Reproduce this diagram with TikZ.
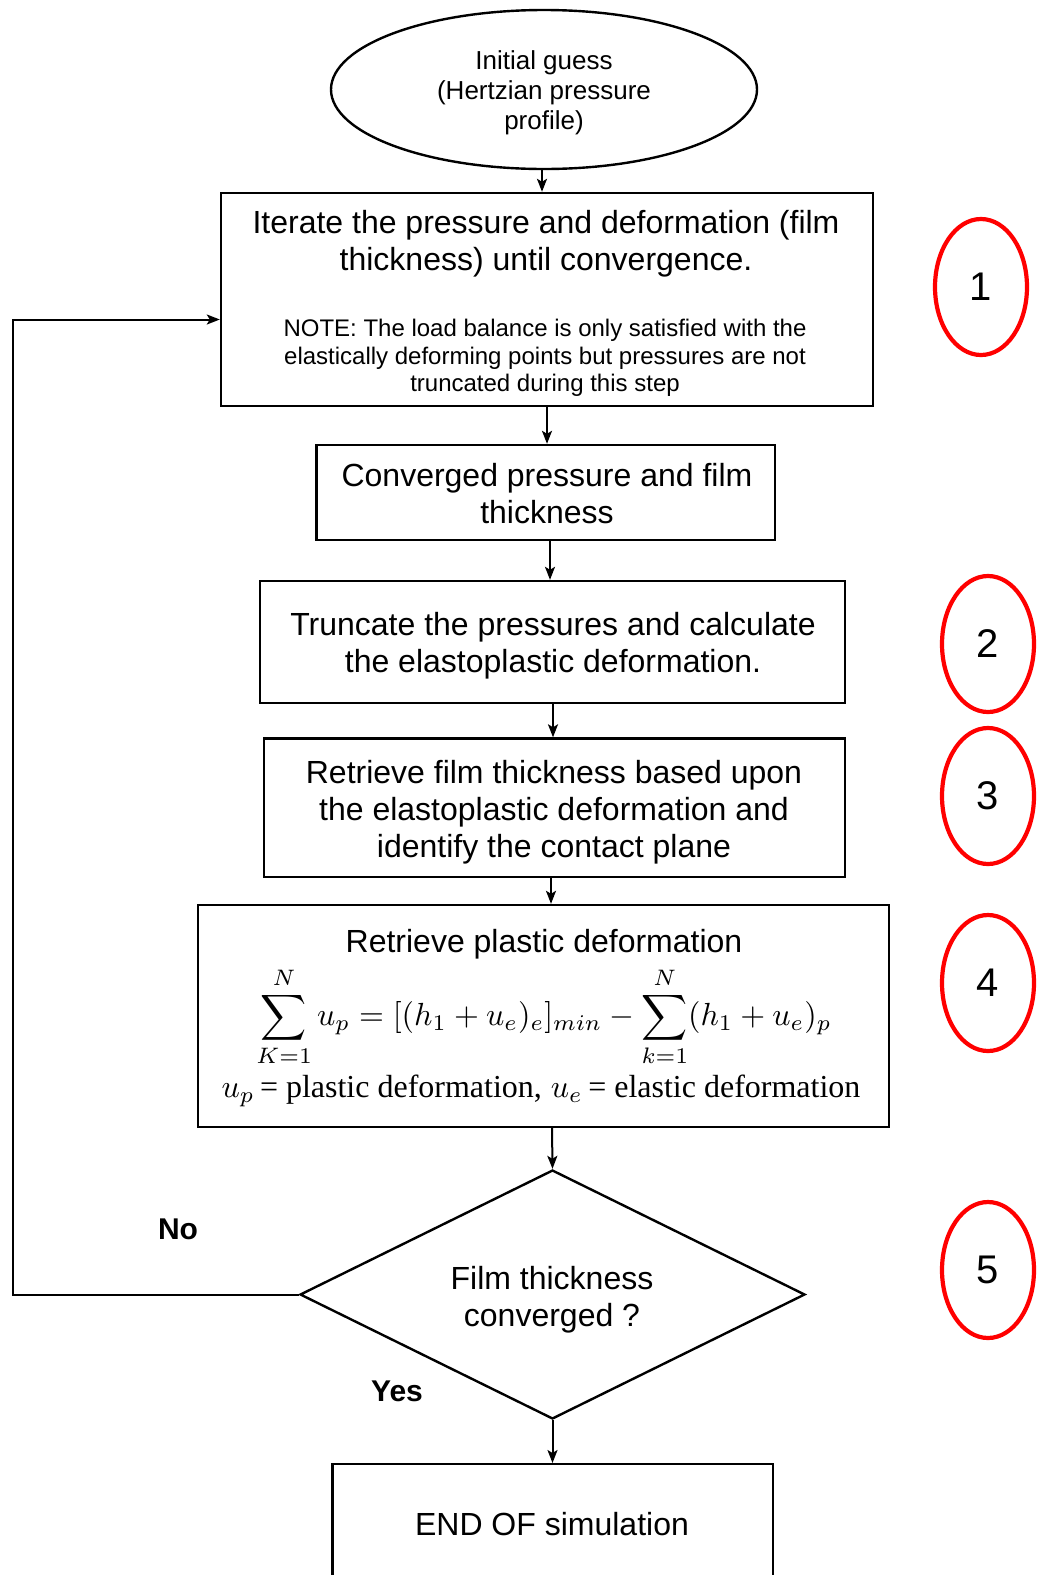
\documentclass[tikz,border=0pt]{standalone}
\usepackage{amsmath}
\usepackage{graphicx}
\usepackage{fontspec}
\setmainfont{Liberation Sans}
\newfontfamily\serifrm{Liberation Serif}
\usetikzlibrary{shapes.geometric,arrows.meta}

% math set at 10pt and enlarged, so that the math fonts keep their design size
\newcommand{\enlargedmath}[2]{\scalebox{#1}{\fontsize{10}{12}\selectfont$#2$}}

\tikzset{
  box/.style={draw, line width=2.4pt, rectangle, inner sep=0pt},
  txt/.style={align=center, inner sep=0pt, font=\fontsize{32}{37}\selectfont},
  conn/.style={line width=2pt, -{Stealth[length=13pt,width=10pt,inset=3pt]}},
  stepmark/.style={draw=red, line width=4.2pt, ellipse, minimum width=92pt, minimum height=136pt, inner sep=0pt, font=\fontsize{40}{40}\selectfont},
  answer/.style={inner sep=0pt, font=\fontsize{30}{30}\selectfont\bfseries}
}

\begin{document}
\begin{tikzpicture}[x=1pt,y=-1pt]
\useasboundingbox (0,0) rectangle (1041,1575);

% start ellipse
\node[draw, line width=2.4pt, ellipse, minimum width=426pt, minimum height=159pt, inner sep=0pt] (start) at (544,89.5) {};
\node[align=center, inner sep=0pt, font=\fontsize{26}{30}\selectfont] (starttxt) at (544,93) {Initial guess\\(Hertzian pressure\\profile)};

% step 1: iteration box
\node[box, minimum width=652pt, minimum height=213pt] (iter) at (547,299.5) {};
\node[txt] (itertxt) at (546,244) {Iterate the pressure and deformation (film\\thickness) until convergence.};
\node[align=center, inner sep=0pt, font=\fontsize{24}{27.6}\selectfont] (note) at (545,358) {NOTE: The load balance is only satisfied with the\\elastically deforming points but pressures are not\\truncated during this step};

% converged result
\node[box, minimum width=458.5pt, minimum height=95pt] (conv) at (545.75,492.5) {};
\node[txt] (convtxt) at (547,494) {Converged pressure and film\\thickness};

% step 2
\node[box, minimum width=585pt, minimum height=122pt] (trunc) at (552.5,642) {};
\node[txt] (trunctxt) at (553,646) {Truncate the pressures and calculate\\the elastoplastic deformation.};

% step 3
\node[box, minimum width=581pt, minimum height=138.5pt] (film) at (554.5,807.75) {};
\node[txt] (filmtxt) at (554,812) {Retrieve film thickness based upon\\the elastoplastic deformation and\\identify the contact plane};

% step 4
\node[box, minimum width=691pt, minimum height=222pt] (plast) at (543.5,1016) {};
\node[txt] (plasttitle) at (544,944) {Retrieve plastic deformation};
\node[inner sep=0pt] (formula) at (544,1017)
  {\enlargedmath{3.2}{\displaystyle\sum_{K=1}^{N} u_p = [(h_1+u_e)_e]_{min} - \sum_{k=1}^{N}(h_1+u_e)_p}};
\node[inner sep=0pt, font=\fontsize{32}{36}\selectfont] (legend) at (541,1091)
  {\enlargedmath{3.2}{u_p}\,{\serifrm = plastic deformation,} \enlargedmath{3.2}{u_e}\,{\serifrm = elastic deformation}};

% step 5: decision
\node[draw, line width=2.4pt, diamond, aspect=2.03, minimum width=505pt, minimum height=249pt, inner sep=0pt] (dec) at (552.5,1294.5) {};
\node[txt] (dectxt) at (552,1300) {Film thickness\\converged ?};

% end box, running off the bottom edge
\node[box, minimum width=440.5pt, minimum height=150pt, anchor=north] (fin) at (552.75,1463) {};
\node[txt] (fintxt) at (552,1524) {END OF simulation};

% decision labels
\node[answer] (no) at (178,1229) {No};
\node[answer] (yes) at (397,1391) {Yes};

% step markers
\node[stepmark] (m1) at (981,287) {1};
\node[stepmark] (m2) at (988,644) {2};
\node[stepmark] (m3) at (988,796) {3};
\node[stepmark] (m4) at (988,983) {4};
\node[stepmark] (m5) at (988,1270) {5};

% main flow
\coordinate (a0) at (542,169);
\draw[conn] (a0) -- (a0 |- iter.north);
\coordinate (a1) at (547,406);
\draw[conn] (a1) -- (a1 |- conv.north);
\coordinate (a2) at (550,540);
\draw[conn] (a2) -- (a2 |- trunc.north);
\coordinate (a3) at (553,703);
\draw[conn] (a3) -- (a3 |- film.north);
\coordinate (a4) at (551,877);
\draw[conn] (a4) -- (a4 |- plast.north);
\coordinate (a5) at (552,1127);
\draw[conn] (a5) -- (dec.north);
\draw[conn] (dec.south) -- (dec.south |- fin.north);

% loop back when not converged
\coordinate (l1) at (13,1294.5);
\coordinate (l2) at (13,319.5);
\draw[conn] (dec.west) -- (l1) -- (l2) -- (l2 -| iter.west);
\end{tikzpicture}
\end{document}
